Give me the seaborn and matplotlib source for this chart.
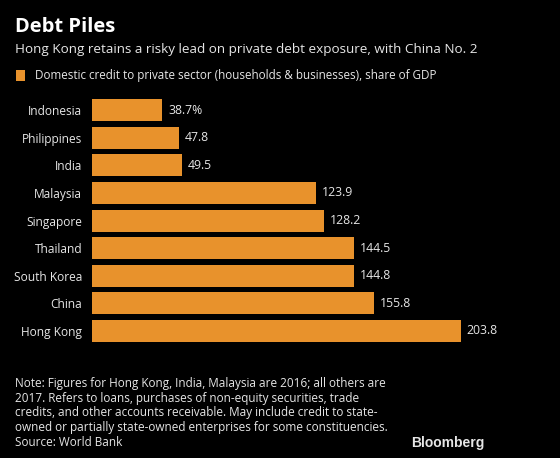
import matplotlib
matplotlib.use("Agg")
import matplotlib.pyplot as plt
import seaborn as sns
import pandas as pd
from matplotlib.patches import Rectangle

countries = ["Indonesia", "Philippines", "India", "Malaysia", "Singapore",
             "Thailand", "South Korea", "China", "Hong Kong"]
values = [38.7, 47.8, 49.5, 123.9, 128.2, 144.5, 144.8, 155.8, 203.8]
value_labels = ["38.7%", "47.8", "49.5", "123.9", "128.2", "144.5", "144.8", "155.8", "203.8"]

title = "Debt Piles"
subtitle = "Hong Kong retains a risky lead on private debt exposure, with China No. 2"
legend_text = "Domestic credit to private sector (households & businesses), share of GDP"
note = ("Note: Figures for Hong Kong, India, Malaysia are 2016; all others are\n"
        "2017. Refers to loans, purchases of non-equity securities, trade\n"
        "credits, and other accounts receivable. May include credit to state-\n"
        "owned or partially state-owned enterprises for some constituencies.\n"
        "Source: World Bank")

sns.set_theme(style="dark")
plt.rcParams['font.family'] = ['Open Sans', 'DejaVu Sans']

BG = "#000000"
ORANGE = "#E8922C"
TXT = "#E6E6E6"

df = pd.DataFrame({"country": countries, "value": values})

W, H = 560, 458
fig = plt.figure(figsize=(5.6, 4.58), dpi=100, facecolor=BG)
ax = fig.add_axes([92 / W, 1 - 344.8 / H, 452.5 / W, 248.4 / H])
ax.set_facecolor(BG)

sns.barplot(data=df, x="value", y="country", orient="h", color=ORANGE,
            saturation=1, width=0.8, ax=ax, order=countries, linewidth=0,
            edgecolor="none")

ax.set_xlim(0, 250)
ax.set_ylim(8.5, -0.5)
ax.set_xlabel("")
ax.set_ylabel("")
ax.set_xticks([])
ax.grid(False)
for s in ax.spines.values():
    s.set_visible(False)
ax.tick_params(axis="y", length=0, pad=7, labelsize=8.6, labelcolor=TXT)

for i, (v, lab) in enumerate(zip(values, value_labels)):
    ax.text(v + 3.3, i, lab, va="center", ha="left", fontsize=8.8, color=TXT)

fig.text(15 / W, 1 - 27 / H, title, fontsize=14.5, fontweight="bold", color="white",
         va="center", ha="left")
fig.text(15 / W, 1 - 50 / H, subtitle, fontsize=9.7, color=TXT, va="center", ha="left")
fig.add_artist(Rectangle((16 / W, 1 - 81 / H), 9 / W, 11 / H, transform=fig.transFigure,
                         facecolor=ORANGE, edgecolor="none"))
fig.text(35 / W, 1 - 75.5 / H, legend_text, fontsize=8.4, color=TXT, va="center", ha="left")

fig.text(15 / W, 1 - 377 / H, note, fontsize=8.5, color=TXT, va="top", ha="left",
         linespacing=1.17)
fig.text(485 / W, 1 - 443 / H, "Bloomberg", fontsize=10, fontweight="bold",
         color=TXT, va="center", ha="right", family=["Liberation Sans", "DejaVu Sans"])

fig.savefig("out.png", dpi=100, facecolor=BG)
